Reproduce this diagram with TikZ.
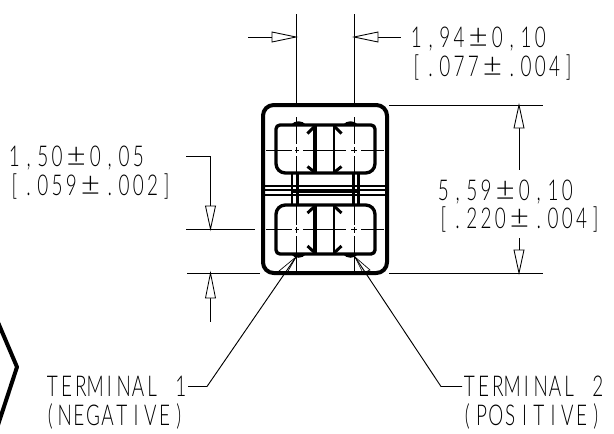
\documentclass[tikz,border=0pt]{standalone}
\usepackage{fontspec}
\newfontfamily\dimfont[UprightFont=* Light,FakeStretch=0.66]{Lato}
\newfontfamily\pmfont[UprightFont=* Light]{Lato}
\newlength\monopitch
\setlength\monopitch{10.7pt}
\def\monoloop#1{\ifx#1\relax\else\makebox[\monopitch][c]{#1}\expandafter\monoloop\fi}
\newcommand\mono[1]{\monoloop#1\relax}
\newcommand\tol[2]{\mono{#1}\makebox[18pt][c]{\pmfont\fontsize{25}{25}\selectfont ±}\mono{#2}}
\tikzset{
  x=0.75pt,y=-0.75pt,
  body/.style={line width=3pt,line join=round,line cap=round},
  thinl/.style={line width=0.7pt},
  term/.style={line width=2.5pt,line join=round},
  chev/.style={line width=2.2pt,line cap=butt},
  cdash/.style={line width=0.55pt},
  arrowtri/.style={line width=0.65pt,fill=white,line join=miter},
  dimtext/.style={anchor=base west,inner sep=0pt,font=\dimfont\fontsize{21.5}{22}\selectfont},
}
\begin{document}
\begin{tikzpicture}
\useasboundingbox (0,0) rectangle (614,433);
% hexagon fragment
\draw[body] (-3,320) -- (17,367) -- (-3,428);
% extension lines
\coordinate (c1) at (296,14); \coordinate (c1t) at (296,105);
\coordinate (c2) at (354,14); \coordinate (c2t) at (354,105);
\draw[thinl] (c1) -- (c1t);
\draw[thinl] (c2) -- (c2t);
\draw[thinl] (389,105) -- (543,105);
\draw[thinl] (389,273) -- (543,273);
\draw[thinl] (187,273) -- (260,273);
\draw[thinl] (186,229) -- (255,229);
% centre lines
\foreach \y in {150,229}{
  \foreach \a/\b in {266/292,295/299,303/346,351/357,361/384}
    \draw[cdash] (\a,\y) -- (\b,\y);
}
\foreach \x in {296,354}{
  \foreach \a/\b in {117/144,147/153,156/225,227/233,236/272}
    \draw[cdash] (\x,\a) -- (\x,\b);
}
% housing
\draw[body,rounded corners=8pt] (263,105) rectangle (387,273);
% centre bars
\draw[line width=1.6pt] (262,185.7) -- (388,185.7);
\draw[line width=1.6pt] (262,195) -- (388,195);
\draw[line width=1.6pt] (262,190.3) -- (292,190.3);
\draw[line width=1.6pt] (358,190.3) -- (388,190.3);
\draw[line width=3pt] (292,190.5) -- (358,190.5);
\draw[line width=1.2pt] (262,185) -- (262,196);
\draw[line width=1.2pt] (388,185) -- (388,196);
% legs
\foreach \x in {292,298,353,358.5}
  \draw[line width=2.2pt] (\x,173) -- (\x,205);
% terminals
\draw[term,rounded corners=7pt] (276,173) [rounded corners=3pt] -- (276,125) -- (375,125) [rounded corners=7pt] -- (375,173) -- cycle;
\draw[term,rounded corners=7pt] (276,205) [rounded corners=3pt] -- (276,254) -- (375,254) [rounded corners=7pt] -- (375,205) -- cycle;
% solder bumps
\foreach \a/\b in {291/306,343/358}{
  \fill (\a,125) .. controls (\a+3,120) and (\b-3,120) .. (\b,125) -- cycle;
  \fill (\a,254) .. controls (\a+3,259) and (\b-3,259) .. (\b,254) -- cycle;
}
% inner bars
\draw[line width=2.7pt] (315,125) -- (315,173);
\draw[line width=2.2pt] (334,125) -- (334,173);
\draw[line width=2.7pt] (315,205) -- (315,254);
\draw[line width=2.2pt] (334,205) -- (334,254);
% chevrons
\draw[chev] (307.5,133.5) -- (315,126);
\draw[chev] (307.5,166.5) -- (315,172.5);
\draw[chev] (341.5,133.5) -- (334,126);
\draw[chev] (341.5,166.5) -- (334,172.5);
\draw[chev] (307.5,213) -- (315,206);
\draw[chev] (307.5,246) -- (315,253);
\draw[chev] (341.5,213) -- (334,206);
\draw[chev] (341.5,246) -- (334,253);
% dimension arrows top
\coordinate (ta1) at (296,37); \coordinate (ta2) at (354,37);
\draw[thinl] (248,37) -- (272,37);
\draw[arrowtri] (ta1) -- (272,32) -- (272,42) -- cycle;
\draw[thinl] (378,37) -- (401,37);
\draw[arrowtri] (ta2) -- (378,32) -- (378,42) -- cycle;
% right dimension
\coordinate (ra1) at (519,105); \coordinate (ra2) at (519,273);
\draw[thinl] (519,128) -- (519,170);
\draw[arrowtri] (ra1) -- (514,128) -- (524,128) -- cycle;
\draw[thinl] (519,238) -- (519,250);
\draw[arrowtri] (ra2) -- (514,250) -- (524,250) -- cycle;
% left dimension
\coordinate (la1) at (210.5,229); \coordinate (la2) at (210.5,273);
\draw[thinl] (186,156) -- (210.5,156) -- (210.5,206);
\draw[arrowtri] (la1) -- (205.5,206) -- (215.5,206) -- cycle;
\draw[thinl] (210.5,298) -- (210.5,322);
\draw[arrowtri] (la2) -- (205.5,298) -- (215.5,298) -- cycle;
% terminal leaders
\coordinate (lt1) at (296,257); \coordinate (lt2) at (355,257);
\draw[thinl] (188,386.5) -- (207,386.5) -- (lt1);
\draw[thinl] (462,386.5) -- (441,386.5) -- (lt2);
\draw[line width=0.5pt] (lt1) -- (279,271) -- (287,273) -- cycle;
\draw[line width=0.5pt] (lt2) -- (370,270) -- (363,273) -- cycle;
% texts
\node[dimtext] (d1a) at (409,47) {\tol{1,94}{0,10}};
\node[dimtext] (d1b) at (409,76) {\tol{[.077}{.004]}};
\node[dimtext] (d2a) at (7,166) {\tol{1,50}{0,05}};
\node[dimtext] (d2b) at (7,195) {\tol{[.059}{.002]}};
\node[dimtext] (d3a) at (436,200) {\tol{5,59}{0,10}};
\node[dimtext] (d3b) at (436,228.5) {\tol{[.220}{.004]}};
\node[dimtext] (t1a) at (45,396.5) {\mono{TERMINAL~1}};
\node[dimtext] (t1b) at (43,425) {\mono{(NEGATIVE)}};
\node[dimtext] (t2a) at (462,396.5) {\mono{TERMINAL~2}};
\node[dimtext] (t2b) at (460,425) {\mono{(POSITIVE)}};
\end{tikzpicture}
\end{document}
